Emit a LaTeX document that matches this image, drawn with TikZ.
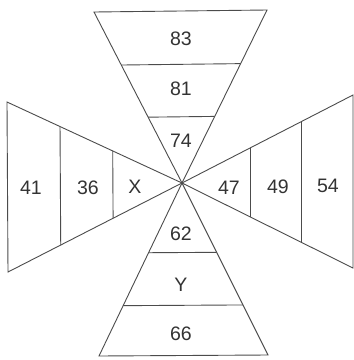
\documentclass[tikz,border=0pt]{standalone}
\usepackage{fontspec}
\setmainfont{Liberation Sans}
\usetikzlibrary{calc}
\begin{document}
\begin{tikzpicture}[x=1pt,y=-1pt,
  edge/.style={draw=black!70, line width=0.9pt, line join=miter},
  num/.style={text=black!80, font=\fontsize{19.5}{19.5}\selectfont, inner sep=0pt}]
\useasboundingbox[fill=white] (0,0) rectangle (354,360);
\coordinate (C) at (182,183);
\coordinate (A) at (94,12);  \coordinate (B) at (267,10);
\coordinate (D) at (99,356); \coordinate (E) at (268,355);
\coordinate (F) at (7,102);  \coordinate (G) at (8,272);
\coordinate (H) at (353,95); \coordinate (I) at (353,268);
% outlines
\draw[edge] (C) -- (A) -- (B) -- cycle;
\draw[edge] (C) -- (D) -- (E) -- cycle;
\draw[edge] (C) -- (F) -- (G) -- cycle;
\draw[edge] (C) -- (H) -- (I) -- cycle;
% dividers
\draw[edge] ($(C)!0.69!(A)$) -- ($(C)!0.69!(B)$);
\draw[edge] ($(C)!0.385!(A)$) -- ($(C)!0.385!(B)$);
\draw[edge] ($(C)!0.403!(D)$) -- ($(C)!0.403!(E)$);
\draw[edge] ($(C)!0.709!(D)$) -- ($(C)!0.709!(E)$);
\draw[edge] ($(C)!0.697!(F)$) -- ($(C)!0.697!(G)$);
\draw[edge] ($(C)!0.396!(F)$) -- ($(C)!0.396!(G)$);
\draw[edge] ($(C)!0.70!(H)$) -- ($(C)!0.70!(I)$);
\draw[edge] ($(C)!0.398!(H)$) -- ($(C)!0.398!(I)$);
% labels
\node[num] (t1) at (181,39) {83};
\node[num] (t2) at (181,89) {81};
\node[num] (t3) at (181,141) {74};
\node[num] (l1) at (31,188) {41};
\node[num] (l2) at (88,188) {36};
\node[num] (l3) at (135,187) {X};
\node[num] (r1) at (229,188) {47};
\node[num] (r2) at (278,187) {49};
\node[num] (r3) at (328,186) {54};
\node[num] (b1) at (181,234) {62};
\node[num] (b2) at (181,285) {Y};
\node[num] (b3) at (181,334) {66};
\end{tikzpicture}
\end{document}
